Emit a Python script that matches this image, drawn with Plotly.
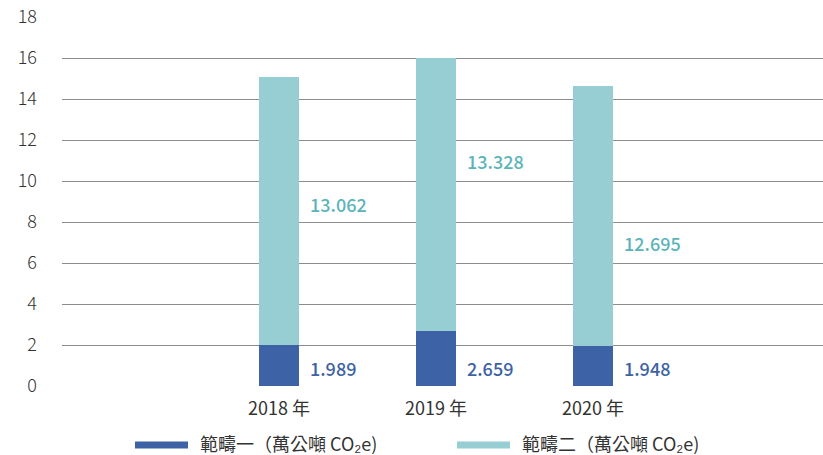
import plotly.graph_objects as go

# Emissions by year (萬公噸 CO2e)
years = ["2018 年", "2019 年", "2020 年"]
scope1 = [1.989, 2.659, 1.948]
scope2 = [13.062, 13.328, 12.695]
y_ticks = [0, 2, 4, 6, 8, 10, 12, 14, 16, 18]
legend_names = ["範疇一（萬公噸 CO₂e)", "範疇二（萬公噸 CO₂e)"]

C1 = "#3d62a5"
C2 = "#96ced3"
C2_TEXT = "#5cb4ba"
FONT = "Noto Sans CJK TC, Noto Sans CJK SC, sans-serif"

x = list(range(len(years)))
BAR_W = 0.255

fig = go.Figure()
fig.add_trace(go.Bar(x=x, y=scope1, width=BAR_W, marker=dict(color=C1, line_width=0),
                     name=legend_names[0], showlegend=False))
fig.add_trace(go.Bar(x=x, y=scope2, width=BAR_W, marker=dict(color=C2, line_width=0),
                     name=legend_names[1], showlegend=False))

# value labels to the right of each bar
scope1_label_y = 0.9
scope2_label_y = [8.9, 11.0, 7.0]
for i in x:
    fig.add_annotation(x=i + BAR_W / 2, y=scope1_label_y, text=f"{scope1[i]:.3f}",
                       xanchor="left", yanchor="middle", xshift=9, showarrow=False,
                       font=dict(family=FONT, size=18, color=C1, weight=500))
    fig.add_annotation(x=i + BAR_W / 2, y=scope2_label_y[i], text=f"{scope2[i]:.3f}",
                       xanchor="left", yanchor="middle", xshift=9, showarrow=False,
                       font=dict(family=FONT, size=18, color=C2_TEXT, weight=500))

# legend drawn below the plot: thick line swatch + label
legend_items = [(135, 188, 198, C1, legend_names[0]), (457, 510, 520, C2, legend_names[1])]
W, H = 823, 455
for x0, x1, xt, col, name in legend_items:
    fig.add_shape(type="line", xref="paper", yref="paper",
                  x0=(x0 - 62) / (W - 62), x1=(x1 - 62) / (W - 62),
                  y0=-(445 - 386) / (386 - 17), y1=-(445 - 386) / (386 - 17),
                  line=dict(color=col, width=7))
    fig.add_annotation(xref="paper", yref="paper", x=(xt - 62) / (W - 62),
                       y=-(443 - 386) / (386 - 17), text=name, xanchor="left",
                       yanchor="middle", showarrow=False,
                       font=dict(family=FONT, size=18, color="#333333"))

fig.update_layout(
    width=W, height=H,
    margin=dict(l=62, r=0, t=17, b=69),
    paper_bgcolor="white", plot_bgcolor="white",
    barmode="stack",
    showlegend=False,
    font=dict(family=FONT, color="#333333"),
)
fig.update_xaxes(range=[-1.382, 3.465], tickvals=x, ticktext=years, showgrid=False,
                 zeroline=False, showline=False, ticks="", ticklabelstandoff=10,
                 tickfont=dict(family=FONT, size=18, color="#333333"))
fig.update_yaxes(range=[0, 18], tickvals=y_ticks, showgrid=True, gridcolor="#8c8c8c",
                 gridwidth=1.2, zeroline=False, showline=False, ticks="",
                 ticklabelstandoff=24,
                 tickfont=dict(family=FONT, size=18, color="#333333", weight=300))

fig.write_html("out.html")
